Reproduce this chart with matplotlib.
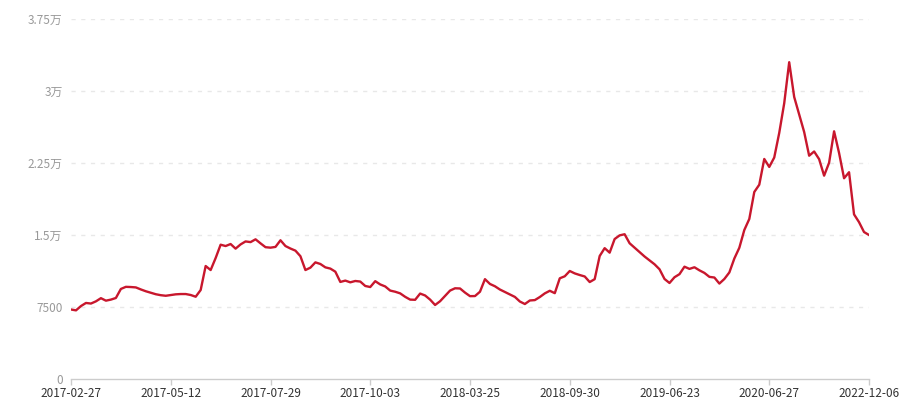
import matplotlib
matplotlib.use("Agg")
import matplotlib.pyplot as plt

plt.rcParams['font.family'] = ['Noto Sans CJK SC', 'DejaVu Sans']

# valeurs (un point tous les ~5 px)
valeurs = [
    7240, 7150, 7600, 7920, 7860, 8090, 8420, 8160, 8270, 8440,
    9380, 9600, 9580, 9540, 9330, 9140, 8980, 8830, 8730, 8670,
    8750, 8820, 8850, 8850, 8750, 8570, 9270, 11770, 11350, 12600,
    13990, 13850, 14060, 13580, 14020, 14330, 14260, 14550, 14130, 13730,
    13680, 13760, 14450, 13850, 13590, 13370, 12790, 11350, 11600, 12150,
    11980, 11630, 11500, 11180, 10110, 10250, 10070, 10210, 10150, 9690,
    9580, 10190, 9850, 9640, 9210, 9090, 8920, 8560, 8270, 8250,
    8900, 8700, 8270, 7710, 8100, 8650, 9210, 9450, 9430, 9000,
    8630, 8640, 9090, 10400, 9900, 9660, 9320, 9060, 8800, 8550,
    8070, 7810, 8180, 8220, 8540, 8920, 9190, 8940, 10490, 10700,
    11250, 11000, 10830, 10680, 10100, 10400, 12810, 13630, 13160, 14580,
    14960, 15080, 14140, 13680, 13220, 12760, 12360, 11950, 11430, 10420,
    10000, 10600, 10920, 11700, 11470, 11640, 11320, 11050, 10640, 10570,
    9940, 10420, 11100, 12550, 13670, 15520, 16670, 19480, 20240, 22920,
    22090, 23070, 25630, 28720, 33000, 29380, 27570, 25730, 23260, 23700,
    22900, 21180, 22530, 25800, 23540, 20910, 21540, 17150, 16340, 15310,
    15000,
]
jours = list(range(len(valeurs)))

dates_ticks = [0, 20, 40, 60, 80, 100, 120, 140, 160]
dates_labels = ['2017-02-27', '2017-05-12', '2017-07-29', '2017-10-03',
                '2018-03-25', '2018-09-30', '2019-06-23', '2020-06-27',
                '2022-12-06']
y_ticks = [0, 7500, 15000, 22500, 30000, 37500]
y_labels = ['0', '7500', '1.5万', '2.25万', '3万', '3.75万']

fig = plt.figure(figsize=(9, 4), dpi=100)
ax = fig.add_axes([71 / 900, 1 - 379 / 400, 798 / 900, 360 / 400])

ax.plot(jours, valeurs, color='#c8172d', linewidth=1.7, solid_joinstyle='round')

ax.set_xlim(0, 160)
ax.set_ylim(0, 37500)
ax.set_xticks(dates_ticks)
ax.set_xticklabels(dates_labels, fontsize=8.5, color='#333333')
ax.set_yticks(y_ticks)
ax.set_yticklabels(y_labels, fontsize=8.5, color='#999999')

for v in y_ticks[1:]:
    ax.axhline(v, color='#e8e8e8', linewidth=1, linestyle=(0, (3, 4)), zorder=0)

for s in ['top', 'right', 'left']:
    ax.spines[s].set_visible(False)
ax.spines['bottom'].set_color('#cccccc')
ax.spines['bottom'].set_linewidth(1)
ax.tick_params(axis='x', color='#cccccc', length=4, width=1, pad=2)
ax.tick_params(axis='y', length=0, pad=6)

fig.savefig('out.png', dpi=100)
